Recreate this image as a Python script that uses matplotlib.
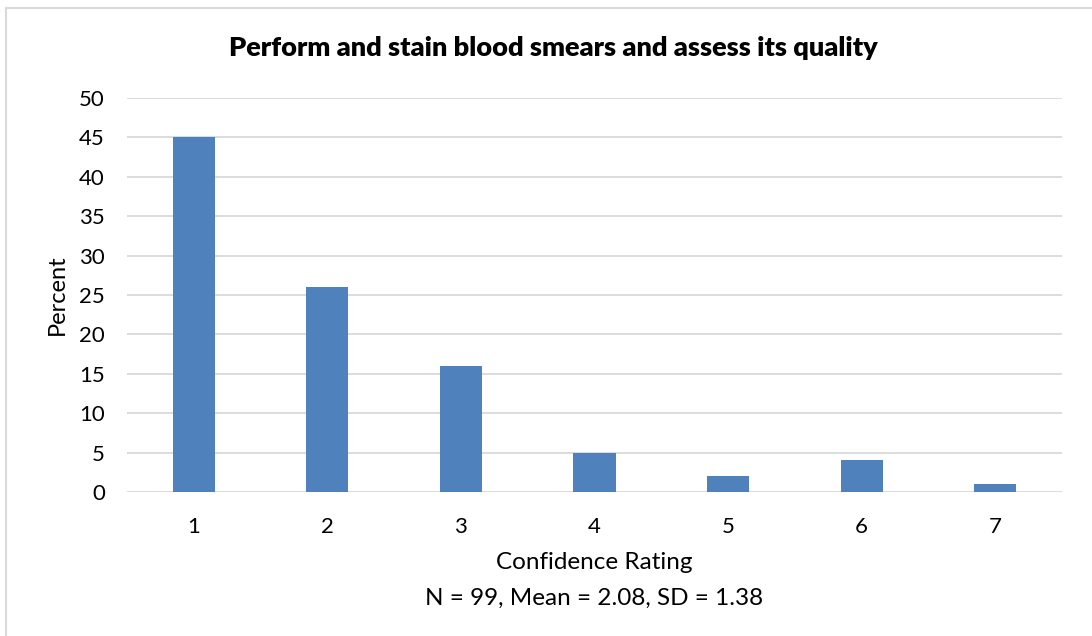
import matplotlib.pyplot as plt
from matplotlib.patches import Rectangle

# данные графика
ratings = ['1', '2', '3', '4', '5', '6', '7']
percent = [45, 26, 16, 5, 2, 4, 1]
y_ticks = [0, 5, 10, 15, 20, 25, 30, 35, 40, 45, 50]

plt.rcParams['font.family'] = ['Lato', 'DejaVu Sans']

fig = plt.figure(figsize=(10.92, 6.36), dpi=100)
ax = fig.add_axes([0.1163, 0.2264, 0.8562, 0.6195])

x = list(range(len(ratings)))
ax.bar(x, percent, width=0.315, color='#4F81BD', zorder=3)

ax.set_xlim(-0.5, len(ratings) - 0.5)
ax.set_ylim(0, 50)
ax.set_yticks(y_ticks)
ax.set_xticks(x)
ax.set_xticklabels(ratings)
ax.tick_params(axis='both', length=0, labelsize=16, colors='black')
ax.tick_params(axis='y', pad=16)
ax.tick_params(axis='x', pad=18)
ax.grid(axis='y', color='#D9D9D9', linewidth=1.3, zorder=0)
for s in ax.spines.values():
    s.set_visible(False)

ax.set_ylabel('Percent', fontsize=17, labelpad=8)
ax.set_xlabel('Confidence Rating\nN = 99, Mean = 2.08, SD = 1.38',
              fontsize=17.5, labelpad=11, linespacing=1.85)
fig.text(0.5064, 0.925, 'Perform and stain blood smears and assess its quality',
         ha='center', va='center', fontsize=19.5, fontweight='heavy')

# рамка области диаграммы (видны только левая и верхняя стороны)
fig.patches.append(Rectangle((6 / 1092, -0.1), 1.2, 1.1 - 8 / 636,
                             transform=fig.transFigure, fill=False,
                             edgecolor='#D9D9D9', linewidth=1.5))

fig.savefig('out.png', dpi=100)
